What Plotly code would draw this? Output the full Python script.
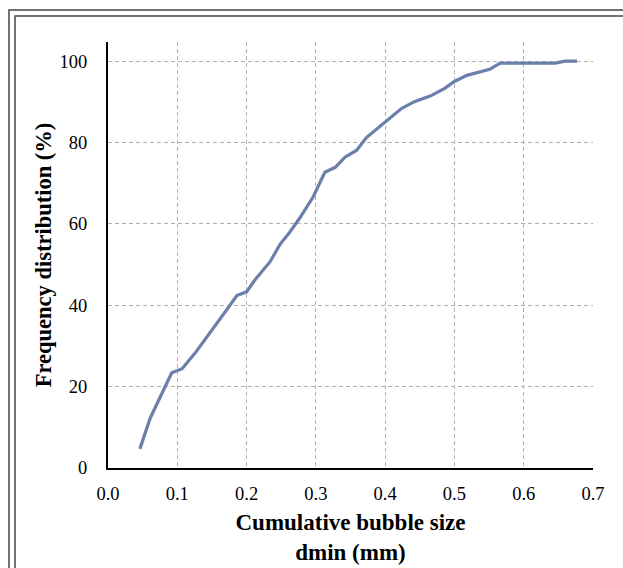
import plotly.graph_objects as go

# Data
bubble_size_mm = [0.046, 0.061, 0.092, 0.107, 0.126, 0.14, 0.155, 0.17, 0.186, 0.2,
                  0.212, 0.222, 0.234, 0.248, 0.262, 0.277, 0.296, 0.313, 0.328,
                  0.342, 0.359, 0.373, 0.39, 0.41, 0.424, 0.443, 0.465, 0.486,
                  0.5, 0.518, 0.537, 0.551, 0.566, 0.645, 0.66, 0.677]
frequency_pct = [4.7, 12.3, 23.4, 24.4, 28.3, 31.5, 35.0, 38.6, 42.4, 43.3,
                 46.2, 48.3, 50.7, 54.9, 57.9, 61.5, 66.6, 72.7, 73.9,
                 76.4, 78.1, 81.2, 83.6, 86.5, 88.4, 90.1, 91.4, 93.3,
                 95.0, 96.5, 97.3, 98.0, 99.5, 99.5, 100.0, 100.0]

x_ticks = [0.0, 0.1, 0.2, 0.3, 0.4, 0.5, 0.6, 0.7]
x_tick_labels = ["0.0", "0.1", "0.2", "0.3", "0.4", "0.5", "0.6", "0.7"]
y_ticks = [0, 20, 40, 60, 80, 100]

FONT = "Liberation Serif, Times New Roman, serif"

fig = go.Figure()
fig.add_trace(go.Scatter(
    x=bubble_size_mm, y=frequency_pct, mode="lines",
    line=dict(color="#6a7fa9", width=3.2), showlegend=False,
))

fig.update_layout(
    width=623, height=568,
    margin=dict(l=108, r=30, t=42, b=100),
    paper_bgcolor="white", plot_bgcolor="white",
    font=dict(family=FONT, color="black", size=18.5),
    xaxis=dict(
        range=[0, 0.7], tickvals=x_ticks, ticktext=x_tick_labels,
        automargin=False,
        showgrid=True, gridcolor="#b0b0b0", griddash="4px,3px", gridwidth=1,
        showline=True, linecolor="black", linewidth=2, zeroline=False,
        ticks="", ticklabelstandoff=8,
        tickfont=dict(family=FONT, size=18.5),
        title=dict(text="<b>Cumulative bubble size<br>dmin (mm)</b>",
                   font=dict(family=FONT, size=23), standoff=11),
    ),
    yaxis=dict(
        range=[0, 104.7], tickvals=y_ticks,
        automargin=False,
        showgrid=True, gridcolor="#b0b0b0", griddash="4px,3px", gridwidth=1,
        showline=True, linecolor="black", linewidth=2, zeroline=False,
        ticks="", ticklabelstandoff=15,
        tickfont=dict(family=FONT, size=18.5),
        title=dict(text="<b>Frequency distribution (%)</b>",
                   font=dict(family=FONT, size=22.5), standoff=2),
    ),
    shapes=[
        dict(type="rect", xref="paper", yref="paper",
             x0=(9 - 108) / 485, x1=(640 - 108) / 485,
             y0=(468 - 600) / 426, y1=(468 - 10) / 426,
             line=dict(color="#444444", width=1.5), layer="below"),
        dict(type="rect", xref="paper", yref="paper",
             x0=(15 - 108) / 485, x1=(640 - 108) / 485,
             y0=(468 - 600) / 426, y1=(468 - 16) / 426,
             line=dict(color="#444444", width=1.5), layer="below"),
    ],
)

fig.write_html("out.html", config={"displayModeBar": False},
               post_script="document.body.style.margin='0';document.body.style.overflow='hidden';")
